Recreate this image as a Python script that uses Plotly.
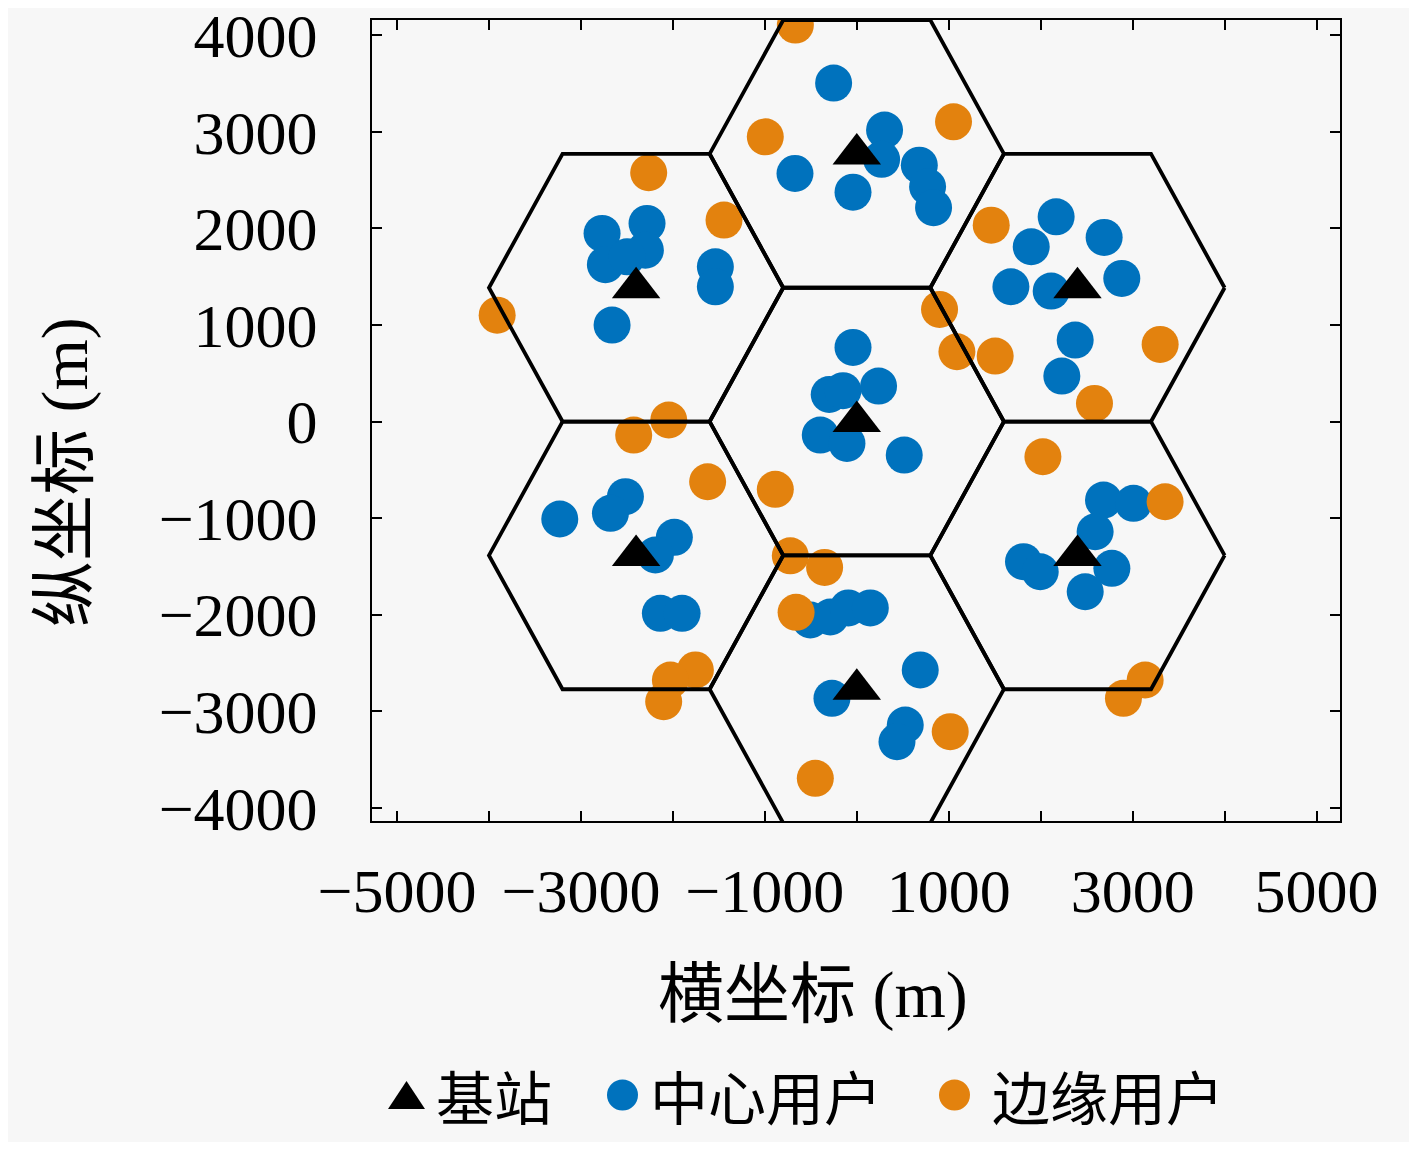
import numpy as np
import plotly.graph_objects as go

# base stations (m) and cell radius
bs_x = [0, 0, 0, 2400, 2400, -2400, -2400]
bs_y = [0, 2771, -2771, 1386, -1386, 1386, -1386]
cell_radius = 1600

# centre users (blue)
center_x = [-252, -672, -41, 302, 270, 680, 770, 835,
            -2770, -2734, -2281, -2299, -2498, -1538, -1538, -2661,
            2168, 2690, 1897, 1676, 2114, 2882, 2375, 2230,
            -41, -300, -150, 237, -397, -107, 516,
            -3230, -2516, -2679, -1984, -2190, -2136, -1900,
            2683, 3009, 2592, 1813, 1995, 2774, 2484,
            -505, -288, -92, 147, -270, 690, 527, 437]
center_y = [3505, 2569, 2375, 3018, 2715, 2655, 2431, 2215,
            1948, 1625, 2052, 1775, 1706, 1602, 1395, 999,
            2120, 1907, 1810, 1396, 1351, 1482, 844, 471,
            768, 280, 320, 367, -140, -226, -347,
            -1009, -778, -950, -1199, -1382, -1986, -1986,
            -813, -847, -1141, -1451, -1555, -1520, -1762,
            -2055, -2024, -1930, -1930, -2866, -2572, -3142, -3315]

# edge users (orange)
edge_x = [-668, -995, 1052, -2263, -1444, -3911, 1462, 900, 1089, 1505,
          3299, 2585, 2024, 3353, 3136, 2900, 1016, -451, -723, -350,
          -660, -1755, -2027, -2100, -2426, -2045, -1622, -886]
edge_y = [4105, 2948, 3104, 2576, 2086, 1102, 2034, 1161, 723, 678,
          799, 188, -364, -830, -2676, -2866, -3211, -3694, -1390, -1510,
          -1975, -2572, -2676, -2900, -140, 16, -623, -702]

x_ticks = list(range(-5000, 5001, 1000))
x_ticktext = ['−5000', '', '−3000', '', '−1000', '', '1000', '', '3000', '', '5000']
y_ticks = list(range(-4000, 4001, 1000))

legend_names = ['基站', '中心用户', '边缘用户']
blue = '#0072BD'
orange = '#E3820E'
bg = '#F7F7F7'

# figure size / plot area in pixels (page has an 8px body margin)
OFF = 8
W, H = 1401, 1134
ML, MR, MT, MB = 364, 69, 12, 321
PW, PH = W - ML - MR, H - MT - MB


def paper(px, py):
    # page pixel -> paper coords
    return (px - OFF - ML) / PW, (H - MB - (py - OFF)) / PH


# hexagon outlines
hex_x, hex_y = [], []
ang = np.radians(np.arange(0, 361, 60))
for cx, cy in zip(bs_x, bs_y):
    hex_x += list(cx + cell_radius * np.cos(ang)) + [None]
    hex_y += list(cy + cell_radius * np.sin(ang)) + [None]

fig = go.Figure()
fig.add_trace(go.Scatter(x=center_x, y=center_y, mode='markers', name=legend_names[1],
                         marker=dict(size=37, color=blue), showlegend=False))
fig.add_trace(go.Scatter(x=edge_x, y=edge_y, mode='markers', name=legend_names[2],
                         marker=dict(size=37, color=orange), showlegend=False))
fig.add_trace(go.Scatter(x=hex_x, y=hex_y, mode='lines', line=dict(color='black', width=3.8),
                         showlegend=False, hoverinfo='skip'))
fig.add_trace(go.Scatter(x=bs_x, y=bs_y, mode='markers', name=legend_names[0],
                         marker=dict(size=42, color='black', symbol='triangle-up'), showlegend=False))

tick_font = dict(family='Liberation Serif', size=62, color='black')
text_font = dict(family='Liberation Serif, Noto Sans CJK SC', size=66, color='black')
legend_font = dict(family='Noto Sans CJK SC', size=58, color='black')

fig.update_xaxes(range=[-5272, 5255], tickvals=x_ticks, ticktext=x_ticktext,
                 ticks='inside', ticklen=10, tickwidth=1.5, tickcolor='black',
                 showline=True, linecolor='black', linewidth=2, mirror='ticks',
                 showgrid=False, zeroline=False, tickfont=tick_font,
                 ticklabelstandoff=15, automargin=False, ticklabeloverflow='allow')
fig.update_yaxes(range=[-4136, 4158], tickvals=y_ticks,
                 ticks='inside', ticklen=10, tickwidth=1.5, tickcolor='black',
                 showline=True, linecolor='black', linewidth=2, mirror='ticks',
                 showgrid=False, zeroline=False, tickfont=tick_font,
                 ticklabelstandoff=40, automargin=False, ticklabeloverflow='allow')

# axis titles
ax, ay = paper(813, 995)
fig.add_annotation(x=ax, y=ay, xref='paper', yref='paper', text='横坐标 (m)',
                   showarrow=False, font=text_font, xanchor='center', yanchor='middle')
ax, ay = paper(65, 472)
fig.add_annotation(x=ax, y=ay, xref='paper', yref='paper', text='纵坐标 (m)', textangle=-90,
                   showarrow=False, font=text_font, xanchor='center', yanchor='middle')

# legend row
ly = 1095
x0, y0 = paper(388, ly + 14)
x1, _ = paper(425, ly)
xm, y1 = paper(406.5, ly - 14)
fig.add_shape(type='path', xref='paper', yref='paper', fillcolor='black', line_width=0,
              path=f'M {x0} {y0} L {x1} {y0} L {xm} {y1} Z')
for cx, col in [(622.5, blue), (954.5, orange)]:
    a0, b0 = paper(cx - 15.5, ly + 15.5)
    a1, b1 = paper(cx + 15.5, ly - 15.5)
    fig.add_shape(type='circle', xref='paper', yref='paper', x0=a0, x1=a1, y0=b0, y1=b1,
                  fillcolor=col, line_width=0)
for left, name in zip([434, 648, 990], legend_names):
    ax, ay = paper(left, ly)
    fig.add_annotation(x=ax, y=ay, xref='paper', yref='paper', text=name, showarrow=False,
                       font=legend_font, xanchor='left', yanchor='middle')

fig.update_layout(width=W, height=H, margin=dict(l=ML, r=MR, t=MT, b=MB),
                  paper_bgcolor=bg, plot_bgcolor=bg, showlegend=False)

fig.write_html("out.html")
